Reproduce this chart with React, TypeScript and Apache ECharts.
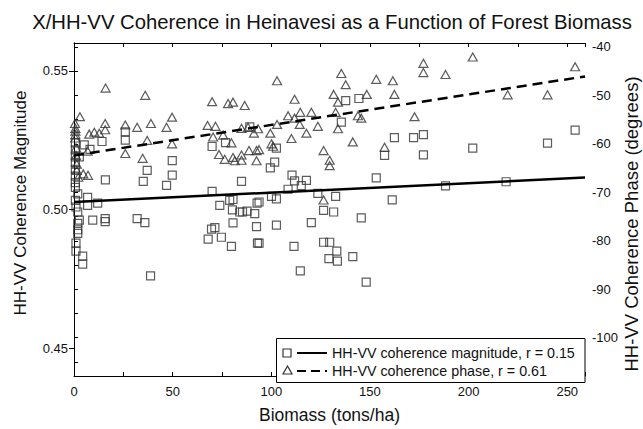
import React, { useEffect, useRef } from "react";
import * as echarts from "echarts";

// ---- data ----
const titleText = "X/HH-VV Coherence in Heinavesi as a Function of Forest Biomass";
const xName = "Biomass (tons/ha)";
const leftName = "HH-VV Coherence Magnitude";
const rightName = "HH-VV Coherence Phase (degrees)";
const legendLabels = ["HH-VV coherence magnitude, r = 0.15", "HH-VV coherence phase, r = 0.61"];

const xTicks = [0, 50, 100, 150, 200, 250];
const leftTicks = [0.45, 0.5, 0.55];
const rightTicks = [-40, -50, -60, -70, -80, -90, -100];
const rightMinorTicks = [-40, -45, -50, -55, -60, -65, -70, -75, -80, -85, -90, -95, -100, -105];

// [biomass, coherence magnitude]
const magnitudePoints = [
  [0.7, 0.524], [0.7, 0.5215], [0.7, 0.519], [2.7, 0.519], [0.7, 0.517], [0.7, 0.5145],
  [0.7, 0.512], [0.7, 0.5097], [0.7, 0.508], [1.9, 0.5056], [0.7, 0.5033], [1.0, 0.5009],
  [1.9, 0.4991], [2.7, 0.4962], [1.9, 0.495], [1.9, 0.4927], [1.9, 0.4914], [1.0, 0.4879],
  [1.0, 0.485], [4.4, 0.4832], [4.4, 0.4803], [5.2, 0.5233], [8.1, 0.5217], [14.2, 0.5245],
  [26, 0.528], [26, 0.525], [15.9, 0.5107], [6.9, 0.5044], [6.9, 0.5015], [12, 0.5023],
  [9.5, 0.4962], [15.8, 0.4967], [15.8, 0.4956], [32, 0.4967], [35.9, 0.4953], [37.1, 0.5141],
  [35.1, 0.5101], [49.8, 0.5176], [49.8, 0.5124], [46.9, 0.5087], [38.8, 0.4761], [70, 0.5227],
  [76.8, 0.5241], [89.1, 0.5298], [84.9, 0.5101], [70, 0.5065], [78.9, 0.5033], [80.6, 0.5036],
  [73.9, 0.5015], [80.3, 0.4999], [84, 0.4991], [85.4, 0.4991], [87.7, 0.4994], [91.6, 0.4985],
  [92.8, 0.5023], [80.6, 0.4952], [92.5, 0.4938], [71.4, 0.4935], [69.7, 0.4929], [68, 0.4893],
  [74.7, 0.49], [79.8, 0.4867], [93, 0.4879], [99.5, 0.515], [102.6, 0.5221], [101.7, 0.5171],
  [110.5, 0.5124], [111.8, 0.5103], [117.8, 0.5105], [115.2, 0.5086], [108.5, 0.5073],
  [137.7, 0.5392], [144.4, 0.54], [135.5, 0.5315], [162.4, 0.5259], [172.1, 0.5259],
  [177.1, 0.527], [177.1, 0.5197], [157.4, 0.5195], [153.2, 0.5114], [123.6, 0.5058],
  [132.6, 0.5047], [100.1, 0.5047], [102.6, 0.5038], [93.8, 0.5027], [126.5, 0.4997],
  [131.6, 0.4991], [145.6, 0.497], [161.3, 0.5035], [120.3, 0.4953], [102.6, 0.4944],
  [93.8, 0.4879], [111.5, 0.4867], [126.5, 0.4882], [129.6, 0.4882], [133.2, 0.485],
  [129.2, 0.4823], [133.5, 0.4814], [141.3, 0.483], [114.7, 0.4779], [148.1, 0.4738],
  [188.3, 0.5085], [202.1, 0.5221], [240, 0.5239], [254, 0.5286], [219, 0.51],
];

// [biomass, coherence phase in degrees]
const phasePoints = [
  [3.0, -54.4], [0.7, -56.8], [0.7, -57.4], [0.7, -58.1], [0.7, -58.8], [1.4, -64.2],
  [1.4, -65.5], [2.2, -66.9], [4.7, -66.2], [7.1, -66.5], [1.0, -60.8], [1.0, -62.4],
  [0.5, -55.8], [7.7, -58.0], [10.3, -57.6], [12.8, -57.8], [15.8, -55.8], [15.8, -57.1],
  [26, -56.1], [26, -62], [6.9, -61.5], [16, -48.5], [36.1, -50], [32, -56.6], [39, -55.8],
  [46.9, -56.6], [49.7, -54.5], [37.1, -59.3], [49.7, -60], [34.8, -63], [70, -51.3],
  [78.1, -51.7], [80.6, -51.4], [86.5, -52.1], [67.7, -56.2], [71.7, -56.4], [70.5, -58.6],
  [75.6, -58.2], [79.8, -59.8], [73.5, -62.2], [76.4, -63.2], [80.6, -62.8], [84.9, -62.3],
  [84.9, -63.4], [81.5, -63.5], [88.7, -61.4], [92.5, -61.4], [84.9, -56.8], [88.2, -56.6],
  [91.2, -57.8], [92.5, -63.5], [102.9, -47], [135.5, -45.5], [137.7, -47.8], [153.2, -46.7],
  [161.6, -47], [177.1, -43.4], [177.1, -45.3], [188.3, -45.7], [111.8, -50.8], [131.6, -49.8],
  [133.8, -51.4], [148.4, -49.8], [162.4, -49.8], [108.5, -54.2], [111.8, -54.7], [114.7, -53.5],
  [120.3, -53.5], [114.4, -56], [102.9, -56], [99.5, -57.8], [93.3, -56.9], [117.8, -57.8],
  [123.6, -56.4], [132.6, -53.5], [133.8, -56.9], [143.9, -54.2], [145.6, -54.7], [172.6, -54.4],
  [110.2, -58.9], [100.1, -60], [100.9, -60.5], [93.8, -61.2], [126.5, -61.4], [141.3, -59.6],
  [157.4, -60.7], [129.6, -63.4], [129.6, -64.5], [126.5, -71.6], [202.1, -42.1], [254, -44.1],
  [219.8, -49.9], [240, -49.9],
];

// regression line end points
const magnitudeFit = [[0, 0.5027], [259, 0.5115]];
const phaseFit = [[0, -62.4], [259, -46.1]];

const FONT = "Liberation Sans, Arial, Helvetica, sans-serif";
const INK = "#111";
const MARK = "#333";

export default function App() {
  const ref = useRef<HTMLDivElement>(null);

  useEffect(() => {
    if (!ref.current) return;
    const chart = echarts.init(ref.current, undefined, { renderer: "svg" });

    const axisLine = { show: true, lineStyle: { color: "#000", width: 1 } };
    const labelStyle = { color: INK, fontSize: 13, fontFamily: FONT };
    const tickStyle = { color: "#000", width: 1 };

    const option: any = {
      animation: false,
      backgroundColor: "#fff",
      grid: { left: 74, right: 58, top: 43, bottom: 46, containLabel: false },
      xAxis: [
        {
          type: "value",
          position: "bottom",
          min: 0,
          max: 259,
          interval: 25,
          axisLine,
          axisTick: { show: true, inside: true, length: 4, lineStyle: tickStyle },
          axisLabel: {
            ...labelStyle,
            margin: 9,
            customValues: xTicks,
            formatter: (v: number) => String(v),
          },
          splitLine: { show: false },
          name: xName,
          nameLocation: "middle",
          nameGap: 30,
          nameTextStyle: { color: INK, fontSize: 17.5, fontFamily: FONT },
        },
        {
          type: "value",
          position: "top",
          min: 0,
          max: 259,
          interval: 25,
          axisLine,
          axisTick: { show: true, inside: true, length: 4, lineStyle: tickStyle },
          axisLabel: { show: false },
          splitLine: { show: false },
        },
      ],
      yAxis: [
        {
          type: "value",
          position: "left",
          min: 0.44,
          max: 0.56,
          axisLine,
          axisTick: { show: true, length: 5, customValues: leftTicks, lineStyle: tickStyle },
          axisLabel: {
            ...labelStyle,
            margin: 6,
            customValues: leftTicks,
            formatter: (v: number) => v.toFixed(2),
          },
          splitLine: { show: false },
        },
        {
          type: "value",
          position: "right",
          min: -107.9,
          max: -39.2,
          axisLine,
          axisTick: { show: true, length: 4, customValues: rightMinorTicks, lineStyle: tickStyle },
          axisLabel: {
            ...labelStyle,
            margin: 7,
            customValues: rightTicks,
            formatter: (v: number) => String(v),
          },
          splitLine: { show: false },
        },
      ],
      series: [
        {
          type: "scatter",
          xAxisIndex: 0,
          yAxisIndex: 0,
          data: magnitudePoints,
          symbol: "rect",
          symbolSize: [8, 8],
          itemStyle: { color: "rgba(0,0,0,0)", borderColor: MARK, borderWidth: 1.2 },
          z: 2,
        },
        {
          type: "scatter",
          xAxisIndex: 0,
          yAxisIndex: 1,
          data: phasePoints,
          symbol: "triangle",
          symbolSize: [9, 8],
          itemStyle: { color: "rgba(0,0,0,0)", borderColor: MARK, borderWidth: 1.2 },
          z: 2,
        },
        {
          type: "line",
          xAxisIndex: 0,
          yAxisIndex: 0,
          data: magnitudeFit,
          showSymbol: false,
          lineStyle: { color: "#000", width: 2.5 },
          z: 3,
        },
        {
          type: "line",
          xAxisIndex: 0,
          yAxisIndex: 1,
          data: phaseFit,
          showSymbol: false,
          lineStyle: { color: "#000", width: 2.5, type: [10, 6] },
          z: 3,
        },
      ],
      graphic: [
        {
          type: "text",
          x: 332,
          y: 22,
          z: 100,
          style: {
            text: titleText,
            fontSize: 20.3,
            fontFamily: FONT,
            fill: INK,
            align: "center",
            verticalAlign: "middle",
          },
        },
        {
          type: "text",
          x: 20,
          y: 203,
          rotation: Math.PI / 2,
          z: 100,
          style: {
            text: leftName,
            fontSize: 17,
            fontFamily: FONT,
            fill: INK,
            align: "center",
            verticalAlign: "middle",
          },
        },
        {
          type: "text",
          x: 631,
          y: 224,
          rotation: Math.PI / 2,
          z: 100,
          style: {
            text: rightName,
            fontSize: 18.5,
            fontFamily: FONT,
            fill: INK,
            align: "center",
            verticalAlign: "middle",
          },
        },
        {
          type: "rect",
          z: 100,
          shape: { x: 276.5, y: 338.5, width: 308.5, height: 44 },
          style: { fill: "#fff", stroke: "#000", lineWidth: 1 },
        },
        {
          type: "rect",
          z: 101,
          shape: { x: 283, y: 349, width: 8, height: 8 },
          style: { fill: "none", stroke: MARK, lineWidth: 1.2 },
        },
        {
          type: "line",
          z: 101,
          shape: { x1: 297, y1: 353, x2: 327, y2: 353 },
          style: { stroke: "#000", lineWidth: 2 },
        },
        {
          type: "text",
          z: 101,
          x: 332,
          y: 353,
          style: {
            text: legendLabels[0],
            fontSize: 14.3,
            fontFamily: FONT,
            fill: INK,
            align: "left",
            verticalAlign: "middle",
          },
        },
        {
          type: "polygon",
          z: 101,
          shape: { points: [[287.5, 366], [283, 374], [292, 374]] },
          style: { fill: "none", stroke: MARK, lineWidth: 1.2 },
        },
        {
          type: "line",
          z: 101,
          shape: { x1: 297, y1: 371, x2: 327, y2: 371 },
          style: { stroke: "#000", lineWidth: 2, lineDash: [9, 5] },
        },
        {
          type: "text",
          z: 101,
          x: 332,
          y: 371,
          style: {
            text: legendLabels[1],
            fontSize: 14.3,
            fontFamily: FONT,
            fill: INK,
            align: "left",
            verticalAlign: "middle",
          },
        },
      ],
    };

    chart.setOption(option);
    return () => chart.dispose();
  }, []);

  return (
    <div
      ref={ref}
      style={{ position: "fixed", left: 0, top: 0, width: 643, height: 429, background: "#fff" }}
    />
  );
}
